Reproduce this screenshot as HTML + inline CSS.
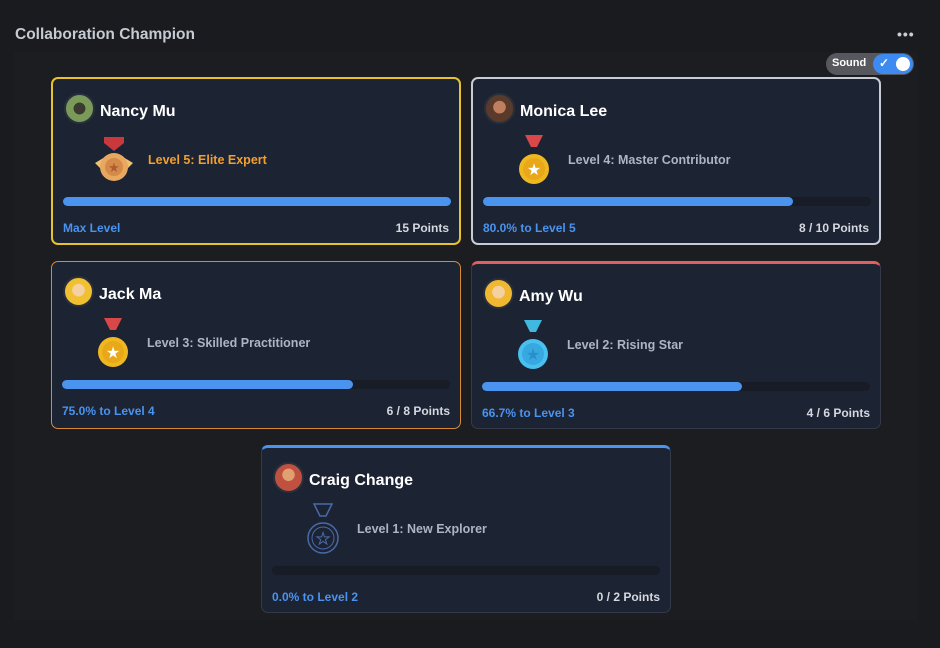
<!DOCTYPE html>
<html><head><meta charset="utf-8"><style>
*{margin:0;padding:0;box-sizing:border-box}
body{width:940px;height:648px;background:#1a1b1f;font-family:"Liberation Sans",sans-serif;position:relative;overflow:hidden}
.panel{position:absolute;left:14px;top:52px;width:904px;height:568px;background:#1c1d21}
.title{position:absolute;left:15px;top:26px;color:#c6cad2;font-size:15.5px;font-weight:bold}
.dots{position:absolute;left:897px;top:26px;color:#c9ccd2;font-size:14px;letter-spacing:1px;font-weight:bold}
.sound{position:absolute;left:826px;top:53px;width:88px;height:22px;border-radius:11px;background:#56585d}
.sound span{position:absolute;left:6px;top:4px;color:#fff;font-size:11px;font-weight:bold}
.tog{position:absolute;left:47px;top:1px;width:40px;height:20px;border-radius:10px;background:#3d8bf0}
.tog i{position:absolute;right:3px;top:3px;width:14px;height:14px;border-radius:7px;background:#fff}
.tog b{position:absolute;left:6px;top:2px;color:#fff;font-size:12px}
.card{position:absolute;width:410px;height:168px;border-radius:7px;background:#1c2333;border:1px solid #343a48}
.av{position:absolute;left:11px;top:14px;width:31px;height:31px;border-radius:16px;border:2px solid #2a2f3a}
.name{position:absolute;left:47px;top:24px;color:#fff;font-size:16px;font-weight:bold}
.medal{position:absolute;left:36px;top:54px;width:50px;height:54px}
.lvl{position:absolute;left:95px;top:74px;color:#aeb4c4;font-size:12.5px;font-weight:bold}
.bar{position:absolute;left:10px;top:118px;width:388px;height:9px;border-radius:5px;background:#171c26}
.bar i{display:block;height:9px;border-radius:5px;background:#4a93ee}
.l{position:absolute;left:10px;top:142px;color:#4a93ee;font-size:12px;font-weight:bold}
.r{position:absolute;right:10px;top:142px;color:#d5d8de;font-size:12px;font-weight:bold}
</style></head><body>
<div class="panel"></div>
<div class="title">Collaboration Champion</div>
<div class="dots">•••</div>
<div class="sound"><span>Sound</span><div class="tog"><b>✓</b><i></i></div></div>

<div class="card" style="left:51px;top:77px;border:2px solid #e8c22c">
<div class="av" style="background:radial-gradient(circle at 50% 50%,#3a3a30 30%,#7a9a5a 32%)"></div><div class="name">Nancy Mu</div>
<svg class="medal" viewBox="0 0 50 54"><path d="M15 4h20v6L25 18 15 10z" fill="#c8383c"/><path d="M6 30l10-6v16zM44 30l-10-6v16z" fill="#f0c070"/><circle cx="25" cy="34" r="14" fill="#e8a860"/><circle cx="25" cy="34" r="9" fill="#d48a48"/><text x="25" y="39" font-size="13" text-anchor="middle" fill="#b05a30">★</text></svg>
<div class="lvl" style="color:#f0a030">Level 5: Elite Expert</div>
<div class="bar"><i style="width:100%"></i></div>
<div class="l">Max Level</div><div class="r">15 Points</div></div>

<div class="card" style="left:471px;top:77px;border:2px solid #c8ccd4">
<div class="av" style="background:radial-gradient(circle at 50% 45%,#c08060 30%,#5a3a2a 33%)"></div><div class="name">Monica Lee</div>
<svg class="medal" viewBox="0 0 50 54"><path d="M16 2h18l-6 12h-6z" fill="#d84848"/><circle cx="25" cy="36" r="15" fill="#f0b820"/><circle cx="25" cy="36" r="11" fill="#e8a818"/><text x="25" y="42" font-size="16" text-anchor="middle" fill="#fff">★</text></svg>
<div class="lvl">Level 4: Master Contributor</div>
<div class="bar"><i style="width:80%"></i></div>
<div class="l">80.0% to Level 5</div><div class="r">8 / 10 Points</div></div>

<div class="card" style="left:51px;top:261px;border:1px solid #d58a38">
<div class="av" style="background:radial-gradient(circle at 50% 45%,#f5d0a0 30%,#f0c030 33%)"></div><div class="name">Jack Ma</div>
<svg class="medal" viewBox="0 0 50 54"><path d="M16 2h18l-6 12h-6z" fill="#d84848"/><circle cx="25" cy="36" r="15" fill="#f0b820"/><circle cx="25" cy="36" r="11" fill="#e8a818"/><text x="25" y="42" font-size="16" text-anchor="middle" fill="#fff">★</text></svg>
<div class="lvl">Level 3: Skilled Practitioner</div>
<div class="bar"><i style="width:75%"></i></div>
<div class="l">75.0% to Level 4</div><div class="r">6 / 8 Points</div></div>

<div class="card" style="left:471px;top:261px;border-top:3px solid #e06060">
<div class="av" style="background:radial-gradient(circle at 50% 45%,#f5d0a0 30%,#f0b830 33%)"></div><div class="name">Amy Wu</div>
<svg class="medal" viewBox="0 0 50 54"><path d="M16 2h18l-6 12h-6z" fill="#40b8e0"/><circle cx="25" cy="36" r="15" fill="#48c0f0"/><circle cx="25" cy="36" r="11" fill="#38a8e0"/><text x="25" y="42" font-size="16" text-anchor="middle" fill="#2890c8">★</text></svg>
<div class="lvl">Level 2: Rising Star</div>
<div class="bar"><i style="width:67%"></i></div>
<div class="l">66.7% to Level 3</div><div class="r">4 / 6 Points</div></div>

<div class="card" style="left:261px;top:445px;border-top:3px solid #4a93ee">
<div class="av" style="background:radial-gradient(circle at 50% 40%,#e0a070 28%,#c05040 31%)"></div><div class="name">Craig Change</div>
<svg class="medal" viewBox="0 0 50 54"><path d="M16 2h18l-6 12h-6z" fill="none" stroke="#4a6aa8" stroke-width="1.5"/><circle cx="25" cy="36" r="15" fill="none" stroke="#4a6aa8" stroke-width="1.5"/><circle cx="25" cy="36" r="11" fill="none" stroke="#4a6aa8"/><text x="25" y="42" font-size="16" text-anchor="middle" fill="none" stroke="#4a6aa8">★</text></svg>
<div class="lvl">Level 1: New Explorer</div>
<div class="bar"><i style="width:0"></i></div>
<div class="l">0.0% to Level 2</div><div class="r">0 / 2 Points</div></div>
</body></html>
